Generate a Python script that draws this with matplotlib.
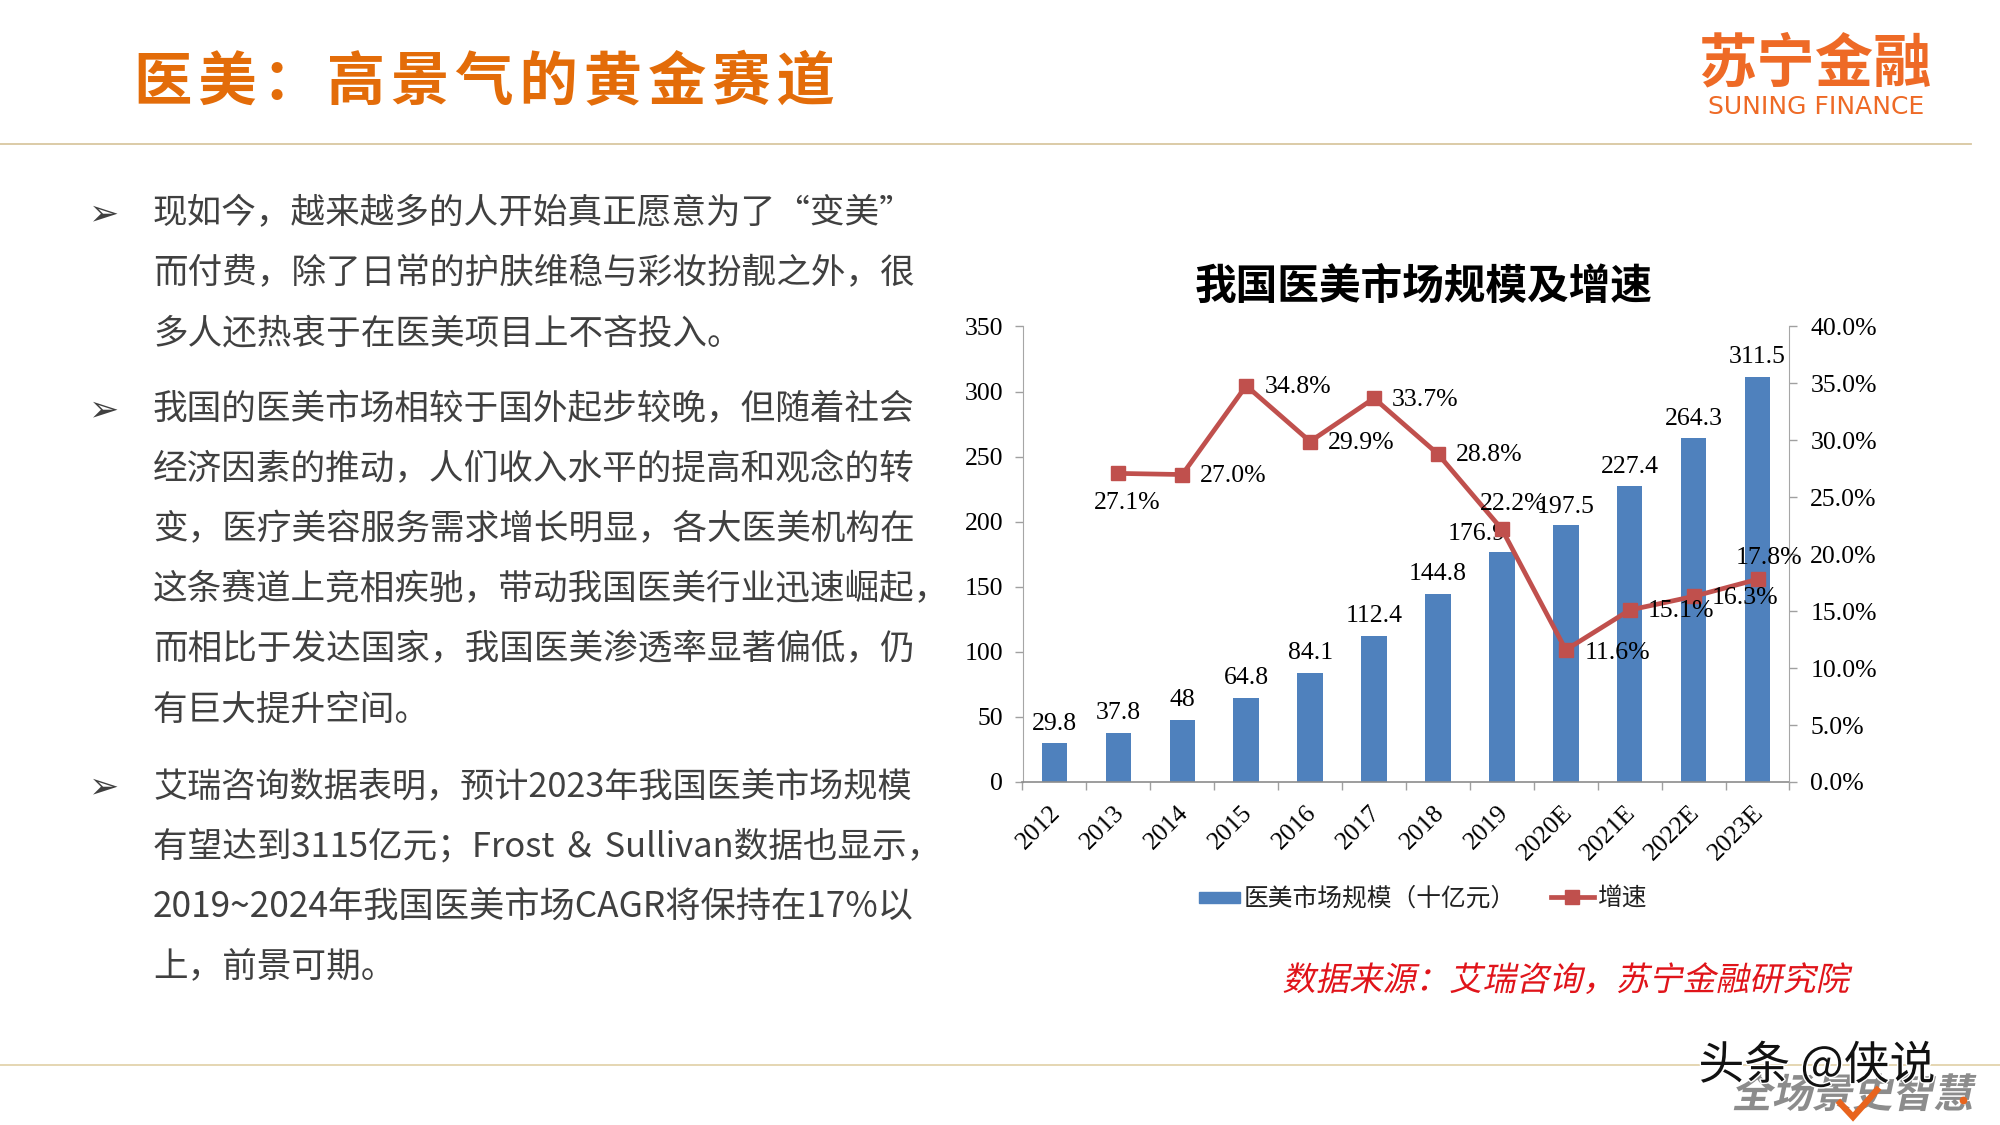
import matplotlib
matplotlib.use('agg')
import matplotlib.pyplot as plt
import matplotlib.patheffects as pe
from matplotlib.transforms import Affine2D

CJK = ['Noto Sans CJK SC', 'DejaVu Sans']
plt.rcParams['font.family'] = CJK

years = ['2012', '2013', '2014', '2015', '2016', '2017', '2018', '2019', '2020E', '2021E', '2022E', '2023E']
market = [29.8, 37.8, 48, 64.8, 84.1, 112.4, 144.8, 176.9, 197.5, 227.4, 264.3, 311.5]
growth = [None, 27.1, 27.0, 34.8, 29.9, 33.7, 28.8, 22.2, 11.6, 15.1, 16.3, 17.8]
left_ticks = [0, 50, 100, 150, 200, 250, 300, 350]
right_ticks = [0, 5, 10, 15, 20, 25, 30, 35, 40]

para1 = ['现如今，越来越多的人开始真正愿意为了“变美”',
         '而付费，除了日常的护肤维稳与彩妆扮靓之外，很',
         '多人还热衷于在医美项目上不吝投入。']
para2 = ['我国的医美市场相较于国外起步较晚，但随着社会',
         '经济因素的推动，人们收入水平的提高和观念的转',
         '变，医疗美容服务需求增长明显，各大医美机构在',
         '这条赛道上竞相疾驰，带动我国医美行业迅速崛起，',
         '而相比于发达国家，我国医美渗透率显著偏低，仍',
         '有巨大提升空间。']
para3 = ['艾瑞咨询数据表明，预计2023年我国医美市场规模',
         '有望达到3115亿元；Frost ＆ Sullivan数据也显示，',
         '2019~2024年我国医美市场CAGR将保持在17%以',
         '上，前景可期。']


class Slant(pe.AbstractPathEffect):
    # fake italic, the CJK fonts have no oblique face
    def draw_path(self, renderer, gc, tpath, affine, rgbFace=None):
        renderer.draw_path(gc, tpath, Affine2D().skew_deg(12, 0) + affine, rgbFace)


W, H = 2000, 1125
fig = plt.figure(figsize=(20, 11.25), dpi=100, facecolor='white')

# page layer in pixel coordinates
page = fig.add_axes([0, 0, 1, 1])
page.set_xlim(0, W)
page.set_ylim(H, 0)
page.axis('off')

page.plot([0, 1971], [144, 144], color='#D9C7A0', lw=1.3)
page.plot([0, 2000], [1065, 1065], color='#E3D3AC', lw=1.3)

page.text(134, 83, '医\u200a美\u200a：\u200a高\u200a景\u200a气\u200a的\u200a黄\u200a金\u200a赛\u200a道',
          fontsize=42, fontweight='bold', color='#E36C09', va='center', ha='left')

# logo
page.text(1815, 64, '苏宁金融', fontsize=42, fontweight='bold', color='#EE6A26', va='center', ha='center')
page.text(1816, 107, 'SUNING FINANCE', fontsize=18, color='#EE6A26', va='center', ha='center', family='DejaVu Sans')

# body text
body_color = '#404040'
line_h = 60
for lines, y0 in [(para1, 214), (para2, 410), (para3, 787)]:
    page.text(89, y0, '➢', fontsize=26, color=body_color, va='center', ha='left', family=['DejaVu Sans'])
    for i, line in enumerate(lines):
        size = 24.9
        if line.startswith('2019'):
            size = 25.4
        elif line.startswith('艾瑞'):
            size = 24.6
        page.text(153, y0 + i * line_h, line, fontsize=size, color=body_color, va='center', ha='left')

page.text(1566, 981, '数据来源：艾瑞咨询，苏宁金融研究院', fontsize=24, color='#E0141A',
          va='center', ha='center', path_effects=[Slant()])

# watermark
page.text(1852, 1096, '全场景史智慧', fontsize=29, color='#8C8C8C', va='center', ha='center', zorder=4,
          fontweight='bold', path_effects=[Slant()])
page.plot([1840, 1853, 1877], [1103, 1117, 1090], color='#E8641E', lw=4.5, zorder=4.5, solid_joinstyle='miter')
page.plot([1963], [1100], marker='o', ms=4.5, color='#E8641E', zorder=4.5)
page.text(1817, 1066, '头条 @侠说', fontsize=33, color='#111111', va='center', ha='center', zorder=5,
          path_effects=[pe.withStroke(linewidth=2, foreground='white')])

# chart
ax_left, ax_right, ax_top, ax_bottom = 1022.5, 1789.5, 326.5, 782
ax = fig.add_axes([ax_left / W, 1 - ax_bottom / H, (ax_right - ax_left) / W, (ax_bottom - ax_top) / H])
ax.patch.set_alpha(0)
x = list(range(len(years)))
ax.bar(x, market, width=0.4, color='#4F81BD', zorder=2)
ax.set_xlim(-0.5, 11.5)
ax.set_ylim(0, 350)
ax.set_yticks(left_ticks)
serif = 'Liberation Serif'
ax.set_yticklabels([str(t) for t in left_ticks], family=serif, fontsize=18.5)
ax.set_xticks([i - 0.5 for i in range(13)])
ax.set_xticklabels([])
ax.tick_params(axis='x', length=6, width=1, color='#A0A0A0')
ax.tick_params(axis='y', length=6, width=1, color='#A0A0A0', pad=8)
for s in ['top', 'right']:
    ax.spines[s].set_visible(False)
ax.spines['left'].set_color('#A6A6A6')
ax.spines['bottom'].set_color('#8C8C8C')
ax.spines['bottom'].set_linewidth(1.2)

for i, name in enumerate(years):
    ax.annotate(name, (i, 0), xytext=(-3.5, -14), textcoords='offset points', rotation=45,
                rotation_mode='anchor', ha='right', va='top', family=serif, fontsize=18.5, color='black')

bar_offsets = {7: (-18, 13), 8: (0, 13)}
for i, v in enumerate(market):
    dx, dy = bar_offsets.get(i, (0, 14))
    ax.annotate(str(v), (i, v), xytext=(dx, dy), textcoords='offset points', ha='center', va='center',
                family=serif, fontsize=18.5, color='black', zorder=6)

ax2 = ax.twinx()
ax2.set_zorder(ax.get_zorder() + 1)
ax2.patch.set_alpha(0)
ax2.set_ylim(0, 40)
ax2.set_yticks(right_ticks)
ax2.set_yticklabels(['%.1f%%' % t for t in right_ticks], family=serif, fontsize=18.5)
ax2.tick_params(axis='y', length=6, width=1, color='#A0A0A0', pad=9)
for s in ['top', 'left', 'bottom']:
    ax2.spines[s].set_visible(False)
ax2.spines['right'].set_color('#A6A6A6')

gx = x[1:]
gy = growth[1:]
ax2.plot(gx, gy, color='#C0504D', lw=3.4, marker='s', ms=10.5, mec='#C0504D', zorder=3)

line_offsets = {1: (6, -21), 2: (37, -1), 3: (37, -1), 4: (37, -1), 5: (37, -1), 6: (37, -1),
                7: (8, 18), 8: (37, -2), 9: (37, -1), 10: (37, -1), 11: (8, 15)}
for i, v in zip(gx, gy):
    ax2.annotate('%.1f%%' % v, (i, v), xytext=line_offsets[i], textcoords='offset points',
                 ha='center', va='center', family=serif, fontsize=18.5, color='black', zorder=6)

# legend
page.add_patch(plt.Rectangle((1199, 892), 41, 11, color='#4F81BD'))
page.text(1244, 899, '医美市场规模（十亿元）', fontsize=17.8, color='#222222', va='center', ha='left')
page.plot([1551, 1594], [897, 897], color='#C0504D', lw=3.4)
page.plot([1572], [897], marker='s', ms=10.5, color='#C0504D')
page.text(1598, 899, '增速', fontsize=17.8, color='#222222', va='center', ha='left')

page.text(1424, 287, '我国医美市场规模及增速', fontsize=30, fontweight='bold', color='black', va='center', ha='center')

fig.savefig('out.png', dpi=100, facecolor='white')
